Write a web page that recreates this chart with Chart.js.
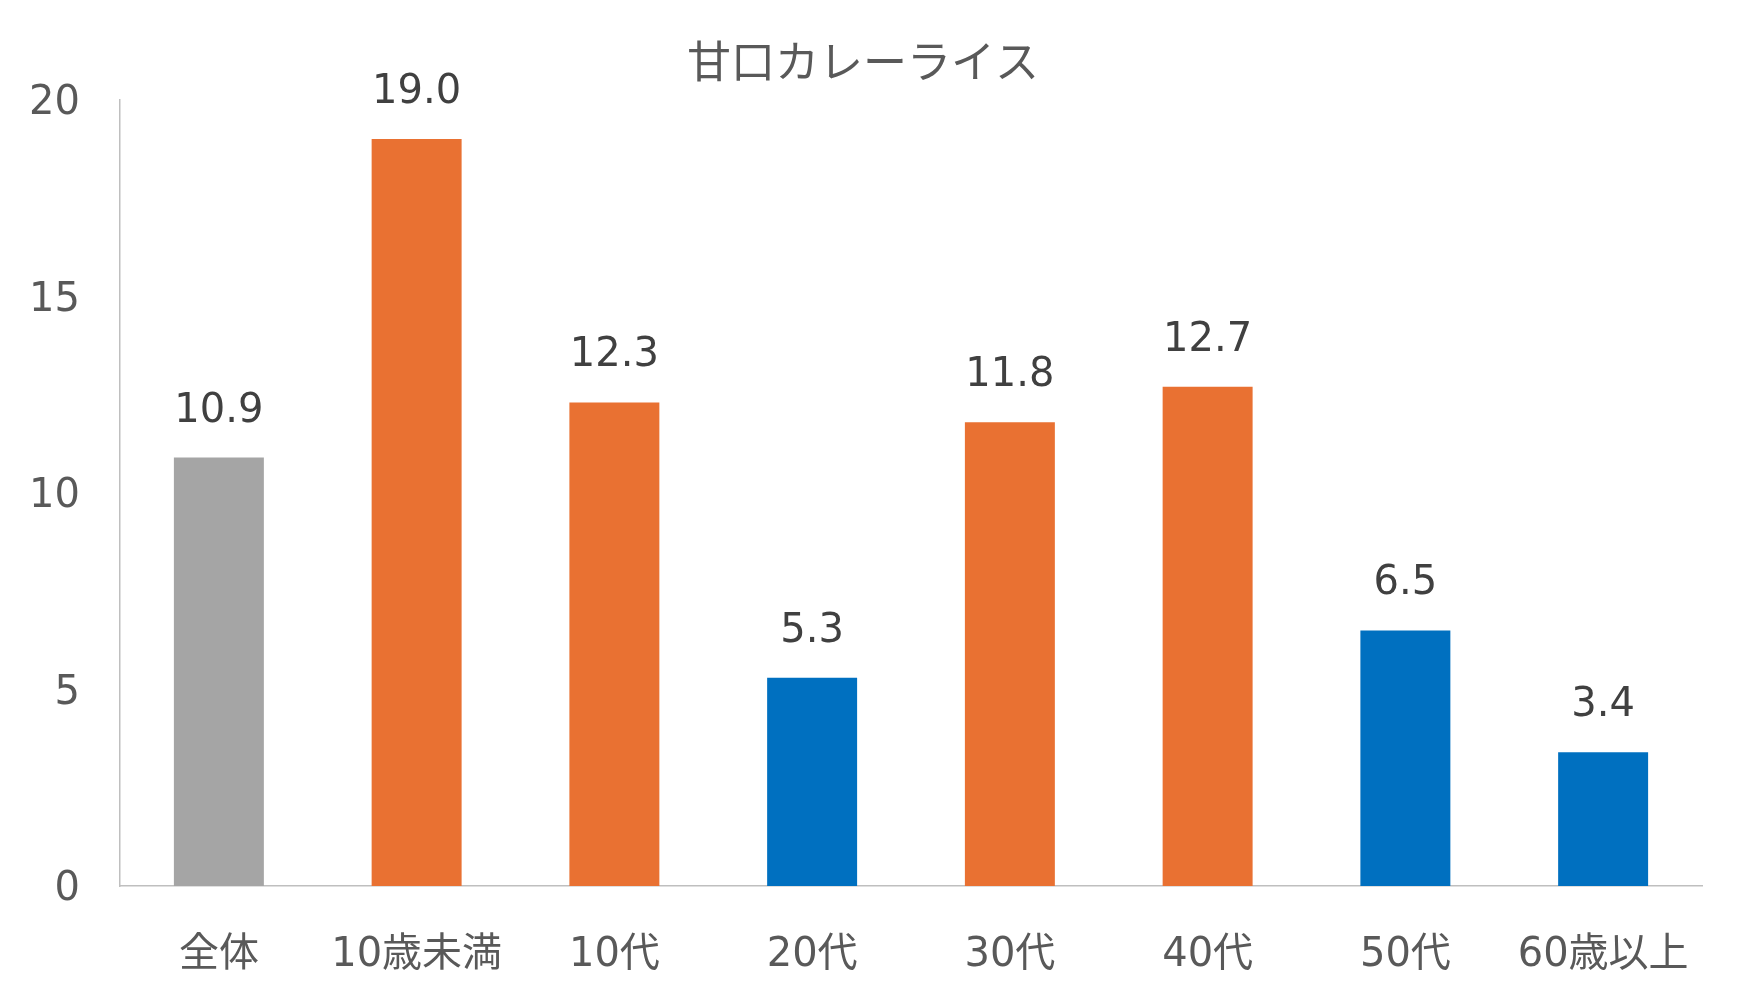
<!DOCTYPE html>
<html>
<head>
<meta charset="utf-8">
<script src="https://cdn.jsdelivr.net/npm/chart.js@4.4.1/dist/chart.umd.min.js"></script>
<style>
  html, body { margin: 0; padding: 0; background: #ffffff; }
  #wrap { width: 1752px; height: 990px; }
</style>
</head>
<body>
<div id="wrap"><canvas id="c" width="1752" height="990"></canvas></div>
<script>
// ---- data ----
const chartTitle = "甘口カレーライス";
const categories = ["全体", "10歳未満", "10代", "20代", "30代", "40代", "50代", "60歳以上"];
const values = [10.9, 19.0, 12.3, 5.3, 11.8, 12.7, 6.5, 3.4];
const yTicks = [0, 5, 10, 15, 20];

// ---- styles ----
const barColors = ["#A5A5A5", "#E97132", "#E97132", "#0070C0", "#E97132", "#E97132", "#0070C0", "#0070C0"];
const FONT = "'DejaVu Sans', 'Noto Sans CJK JP', sans-serif";

const valueLabels = {
  id: 'valueLabels',
  afterDatasetsDraw(chart) {
    const ctx = chart.ctx;
    const meta = chart.getDatasetMeta(0);
    ctx.save();
    ctx.font = "40px " + FONT;
    ctx.fillStyle = "#404040";
    ctx.textAlign = "center";
    ctx.textBaseline = "alphabetic";
    meta.data.forEach((bar, i) => {
      ctx.fillText(values[i].toFixed(1), bar.x, bar.y - 36);
    });
    ctx.restore();
  }
};

new Chart(document.getElementById('c'), {
  type: 'bar',
  data: {
    labels: categories,
    datasets: [{
      data: values,
      backgroundColor: barColors,
      borderWidth: 0,
      categoryPercentage: 1.0,
      barPercentage: 0.455
    }]
  },
  options: {
    responsive: false,
    animation: false,
    devicePixelRatio: 1,
    layout: { padding: { left: 24, right: 50, top: 0, bottom: 0 } },
    plugins: {
      legend: { display: false },
      tooltip: { enabled: false },
      title: {
        display: true,
        text: chartTitle,
        color: "#595959",
        font: { family: "'Noto Sans CJK JP', sans-serif", size: 44, weight: 'normal' },
        padding: { top: 35, bottom: 12 }
      }
    },
    scales: {
      x: {
        grid: { display: false, drawTicks: false },
        border: { display: true, color: "#BFBFBF", width: 1.5 },
        ticks: {
          color: "#595959",
          font: { family: FONT, size: 40 },
          padding: 46,
          maxRotation: 0,
          autoSkip: false
        },
        afterFit(scale) { scale.height = 104; }
      },
      y: {
        min: 0,
        max: 20,
        afterBuildTicks(scale) { scale.ticks = yTicks.map(v => ({ value: v })); },
        grid: { display: false, drawTicks: false },
        border: { display: true, color: "#BFBFBF", width: 1.5 },
        ticks: {
          color: "#595959",
          font: { family: FONT, size: 40 },
          padding: 40,
          labelOffset: 4
        },
        afterFit(scale) { scale.width = 96; }
      }
    }
  },
  plugins: [valueLabels]
});
</script>
</body>
</html>
